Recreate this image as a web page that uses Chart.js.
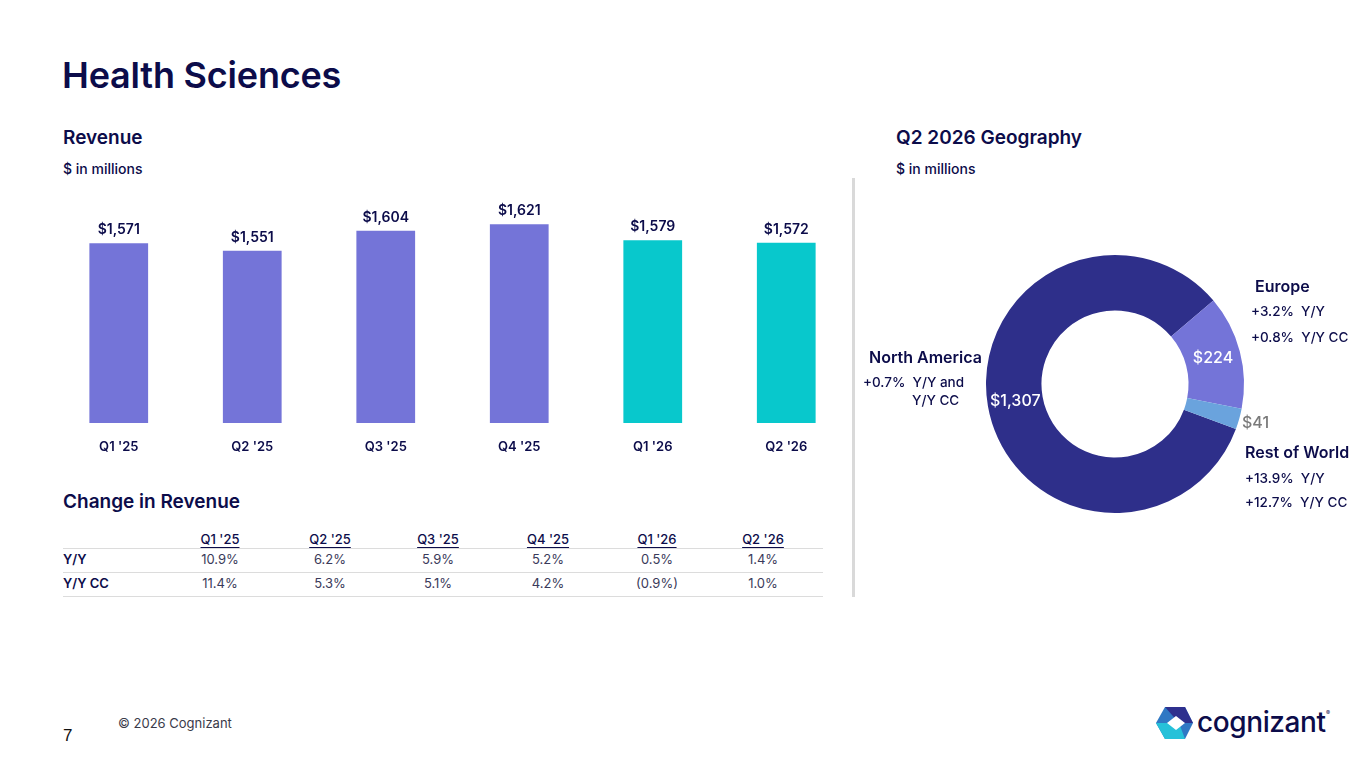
<!DOCTYPE html>
<html>
<head>
<meta charset="utf-8">
<script src="https://cdn.jsdelivr.net/npm/chart.js@4.4.1/dist/chart.umd.min.js"></script>
<style>
  html, body { margin:0; padding:0; background:#fff; }
  body { width:1365px; height:768px; position:relative; overflow:hidden; font-family: Inter, "Noto Sans", sans-serif; color:#0c0c4a; }
  .abs { position:absolute; white-space:nowrap; }
  .title { left:62px; top:53px; font-size:36px; font-weight:600; letter-spacing:-0.2px; }
  .h2 { font-size:19px; font-weight:600; }
  .sub { font-size:14px; font-weight:500; }
  .lbl { font-size:16px; font-weight:600; }
  .val { font-size:13.5px; font-weight:500; }
  .th { font-size:13px; font-weight:500; text-decoration:underline; text-underline-offset:3px; transform:translateX(-50%); }
  .td { font-size:13px; font-weight:400; color:#3a3a5a; transform:translateX(-50%); }
  .rowlbl { font-size:13px; font-weight:600; }
  .hline { position:absolute; height:1px; background:#dcdcdc; }
</style>
</head>
<body>
<div class="abs title">Health Sciences</div>
<div class="abs h2" style="left:63px;top:126px;">Revenue</div>
<div class="abs sub" style="left:63px;top:160px;">$ in millions</div>
<div class="abs h2" style="left:896px;top:126px;">Q2 2026 Geography</div>
<div class="abs sub" style="left:896px;top:160px;">$ in millions</div>
<div class="abs h2" style="left:63px;top:490px;">Change in Revenue</div>

<div style="position:absolute;left:852px;top:178px;width:3px;height:419px;background:#d9d9d9;"></div>

<div style="position:absolute;left:52px;top:194px;width:801px;height:270px;"><canvas id="bar"></canvas></div>
<div style="position:absolute;left:915px;top:234px;width:400px;height:300px;"><canvas id="donut"></canvas></div>

<div class="abs lbl" style="left:869px;top:347px;">North America</div>
<div class="abs val" style="left:863px;top:374px;">+0.7%&nbsp; Y/Y and</div>
<div class="abs val" style="left:912px;top:392px;">Y/Y CC</div>

<div class="abs lbl" style="left:1255px;top:276px;">Europe</div>
<div class="abs val" style="left:1251px;top:303px;">+3.2%&nbsp; Y/Y</div>
<div class="abs val" style="left:1251px;top:329px;">+0.8%&nbsp; Y/Y CC</div>

<div class="abs lbl" style="left:1245px;top:442px;">Rest of World</div>
<div class="abs val" style="left:1245px;top:470px;">+13.9%&nbsp; Y/Y</div>
<div class="abs val" style="left:1245px;top:494px;">+12.7%&nbsp; Y/Y CC</div>

<div id="table"></div>

<div class="abs" style="left:63px;top:726px;font-size:17px;color:#111;font-family:'Liberation Sans',sans-serif;">7</div>
<div class="abs" style="left:118px;top:715px;font-size:13px;color:#3a3a4a;">© 2026 Cognizant</div>

<svg class="abs" style="left:1152px;top:700px;" width="200" height="46" viewBox="0 0 200 46">
  <polygon points="4,23 13,7 33,7 41,23 33,39 13,39" fill="#2f78c4"/>
  <polygon points="13,7 33,7 41,23 27,23" fill="#2e308e"/>
  <polygon points="4,23 13,39 33,39 27,23" fill="#26c1d9"/>
  <polygon points="15,23 24,16 33,23 24,30" fill="#fff"/>
  <text x="45" y="32" font-family="Inter, sans-serif" font-size="28" font-weight="500" fill="#0c0c4a" letter-spacing="-0.4">cognizant</text>
  <text x="174" y="15" font-family="Inter, sans-serif" font-size="6" fill="#0c0c4a">®</text>
</svg>

<script>
// ---------- data ----------
const categories = ["Q1 '25", "Q2 '25", "Q3 '25", "Q4 '25", "Q1 '26", "Q2 '26"];
const revenue = [1571, 1551, 1604, 1621, 1579, 1572];
const yoy = ["10.9%", "6.2%", "5.9%", "5.2%", "0.5%", "1.4%"];
const yoyCC = ["11.4%", "5.3%", "5.1%", "4.2%", "(0.9%)", "1.0%"];
const tableRows = ["Y/Y", "Y/Y CC"];
const regions = ["North America", "Europe", "Rest of World"];
const regionRevenue = [1307, 224, 41];

const NAVY = '#0c0c4a';
const fmt = v => '$' + v.toLocaleString('en-US');

// ---------- table ----------
(function(){
  const t = document.getElementById('table');
  const colX = [220, 330, 438, 548, 657, 763];
  let html = '';
  categories.forEach((c,i)=>{ html += `<div class="abs th" style="left:${colX[i]}px;top:531px;">${c}</div>`; });
  const rows = [yoy, yoyCC];
  const rowY = [551, 575];
  rows.forEach((r,ri)=>{
    html += `<div class="abs rowlbl" style="left:63px;top:${rowY[ri]}px;">${tableRows[ri]}</div>`;
    r.forEach((v,i)=>{ html += `<div class="abs td" style="left:${colX[i]}px;top:${rowY[ri]}px;">${v}</div>`; });
  });
  [548, 572, 596].forEach(y=>{ html += `<div class="hline" style="left:63px;top:${y}px;width:760px;"></div>`; });
  t.innerHTML = html;
})();

// ---------- bar chart ----------
const barLabels = {
  id:'barLabels',
  afterDatasetsDraw(chart){
    const ctx = chart.ctx;
    const meta = chart.getDatasetMeta(0);
    ctx.save();
    ctx.font = '600 14px Inter, sans-serif';
    ctx.fillStyle = NAVY;
    ctx.textAlign = 'center';
    ctx.textBaseline = 'bottom';
    meta.data.forEach((el,i)=>{ ctx.fillText(fmt(chart.data.datasets[0].data[i]), el.x, el.y - 6); });
    ctx.restore();
  }
};
new Chart(document.getElementById('bar'), {
  type:'bar',
  data:{ labels:categories, datasets:[{ data:revenue,
    backgroundColor: categories.map((_,i)=> i<4 ? '#7474d8' : '#08c8cc'),
    barPercentage:0.44, categoryPercentage:1.0 }]},
  options:{
    responsive:true, maintainAspectRatio:false, animation:false,
    layout:{ padding:0 },
    plugins:{ legend:{display:false}, tooltip:{enabled:false} },
    scales:{
      y:{ display:false, min:1100, max:1700 },
      x:{ grid:{ display:false, drawTicks:false }, border:{display:false},
          ticks:{ color:NAVY, font:{ family:'Inter, sans-serif', size:13, weight:'600' }, padding:16 },
          afterFit(s){ s.height = 41; } }
    }
  },
  plugins:[barLabels]
});

// ---------- donut ----------
const donutLabels = {
  id:'donutLabels',
  afterDatasetsDraw(chart){
    const ctx = chart.ctx;
    const meta = chart.getDatasetMeta(0);
    ctx.save();
    ctx.textAlign = 'center';
    ctx.textBaseline = 'middle';
    meta.data.forEach((arc,i)=>{
      const a = (arc.startAngle + arc.endAngle)/2;
      const outside = i === 2;
      const r = outside ? arc.outerRadius + 17 : (arc.innerRadius + arc.outerRadius)/2;
      const x = arc.x + Math.cos(a)*r, y = arc.y + Math.sin(a)*r;
      ctx.font = '500 16px Inter, sans-serif';
      ctx.fillStyle = outside ? '#7a7a7a' : '#ffffff';
      ctx.fillText(fmt(chart.data.datasets[0].data[i]), x, y);
    });
    ctx.restore();
  }
};
new Chart(document.getElementById('donut'), {
  type:'doughnut',
  data:{ labels:regions, datasets:[{ data:regionRevenue,
    backgroundColor:['#2e2f8a', '#7474d8', '#6aa3dd'], borderWidth:0 }]},
  options:{
    responsive:true, maintainAspectRatio:false, animation:false,
    rotation:110.4, cutout:'57%',
    layout:{ padding:{ left:71, right:71, top:21, bottom:21 } },
    plugins:{ legend:{display:false}, tooltip:{enabled:false} }
  },
  plugins:[donutLabels]
});
</script>
</body>
</html>
